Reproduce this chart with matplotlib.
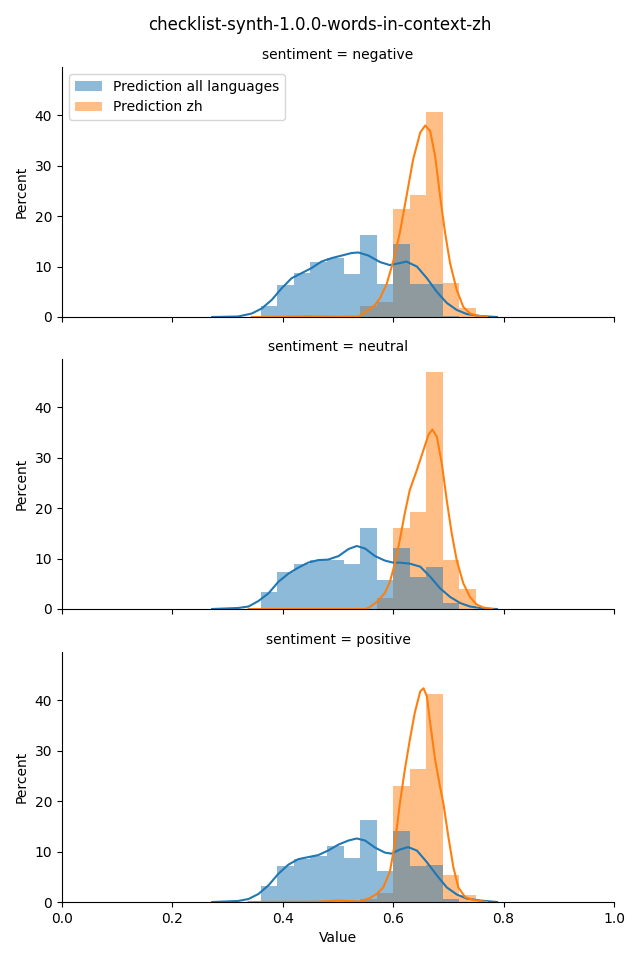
import matplotlib
matplotlib.use("Agg")
import matplotlib.pyplot as plt
import numpy as np
from matplotlib.patches import Patch

# ---------------- data ----------------
title = "checklist-synth-1.0.0-words-in-context-zh"
sentiments = ["negative", "neutral", "positive"]
series_labels = ["Prediction all languages", "Prediction zh"]

bin_edges = [0.36, 0.39, 0.42, 0.45, 0.48, 0.51, 0.54, 0.57, 0.60, 0.63, 0.66, 0.69, 0.72, 0.75]

hist_all_negative = [2.2, 6.4, 8.7, 10.9, 11.8, 8.6, 16.3, 6.6, 14.5, 6.6, 6.6, 0.2, 0.0]
hist_zh_negative = [0, 0, 0, 0, 0, 0, 2.2, 3.0, 21.5, 24.3, 40.7, 6.8, 1.7]
hist_all_neutral = [3.3, 7.3, 8.9, 9.8, 9.8, 8.9, 16.1, 5.7, 12.1, 6.3, 8.3, 1.1, 0.0]
hist_zh_neutral = [0, 0, 0, 0, 0, 0, 0, 2.2, 16.0, 19.2, 47.0, 9.8, 4.0]
hist_all_positive = [3.2, 7.1, 8.6, 9.1, 11.2, 8.7, 16.2, 6.1, 14.0, 7.1, 7.3, 0.6, 0.0]
hist_zh_positive = [0, 0, 0, 0, 0, 0, 0.6, 1.8, 23.0, 26.4, 41.3, 5.3, 1.3]

kde_all_negative_x = [0.272, 0.319, 0.344, 0.362, 0.380, 0.398, 0.416, 0.434, 0.452, 0.470, 0.489, 0.507,
                      0.525, 0.537, 0.555, 0.576, 0.594, 0.612, 0.624, 0.643, 0.661, 0.679, 0.697, 0.715,
                      0.733, 0.757, 0.788]
kde_all_negative_y = [0.0, 0.1, 0.7, 1.7, 3.4, 5.7, 7.7, 8.7, 9.7, 11.0, 11.7, 12.2,
                      12.7, 12.8, 12.2, 10.9, 10.3, 10.7, 11.0, 10.0, 7.7, 5.0, 2.8, 1.4,
                      0.6, 0.2, 0.0]
kde_zh_negative_x = [0.344, 0.40, 0.45, 0.50, 0.537, 0.543, 0.555, 0.567, 0.576, 0.588, 0.600, 0.612,
                     0.624, 0.636, 0.649, 0.658, 0.667, 0.676, 0.685, 0.694, 0.703, 0.715, 0.727,
                     0.739, 0.751, 0.770]
kde_zh_negative_y = [0.0, 0.05, 0.15, 0.05, 0.1, 0.5, 1.4, 2.4, 3.7, 6.5, 11.0, 16.7,
                     23.9, 31.2, 36.6, 38.0, 36.9, 31.9, 23.9, 16.7, 10.7, 5.4, 2.0,
                     0.7, 0.3, 0.0]

kde_all_neutral_x = [0.272, 0.319, 0.338, 0.356, 0.374, 0.392, 0.410, 0.428, 0.446, 0.464, 0.482, 0.501,
                     0.519, 0.534, 0.549, 0.567, 0.585, 0.600, 0.612, 0.630, 0.649, 0.667, 0.685, 0.703,
                     0.721, 0.739, 0.763, 0.788]
kde_all_neutral_y = [0.0, 0.2, 0.5, 1.6, 3.1, 5.4, 7.0, 8.2, 9.2, 9.7, 9.8, 10.5,
                     11.9, 12.5, 12.0, 10.5, 9.6, 9.2, 9.2, 9.0, 8.4, 6.4, 4.1, 2.4,
                     1.2, 0.5, 0.1, 0.0]
kde_zh_neutral_x = [0.338, 0.55, 0.558, 0.570, 0.585, 0.594, 0.603, 0.612, 0.621, 0.630, 0.643, 0.655,
                    0.664, 0.671, 0.679, 0.688, 0.697, 0.706, 0.715, 0.727, 0.739, 0.751, 0.763, 0.780]
kde_zh_neutral_y = [0.0, 0.0, 0.4, 1.4, 3.2, 5.4, 9.0, 13.7, 19.0, 23.6, 27.6, 31.6,
                    34.6, 35.6, 34.2, 28.9, 21.6, 15.0, 9.7, 5.1, 2.4, 0.9, 0.3, 0.0]

kde_all_positive_x = [0.272, 0.319, 0.338, 0.356, 0.374, 0.392, 0.410, 0.428, 0.446, 0.464, 0.482, 0.501,
                      0.519, 0.534, 0.549, 0.567, 0.585, 0.597, 0.612, 0.627, 0.643, 0.661, 0.679, 0.697,
                      0.715, 0.733, 0.757, 0.788]
kde_all_positive_y = [0.0, 0.2, 0.6, 1.6, 3.3, 5.6, 7.4, 8.5, 8.9, 9.3, 10.2, 11.4,
                      12.2, 12.6, 12.2, 10.8, 9.8, 9.6, 10.4, 10.9, 10.2, 7.9, 5.3, 2.9,
                      1.5, 0.7, 0.3, 0.0]
kde_zh_positive_x = [0.338, 0.46, 0.50, 0.54, 0.558, 0.570, 0.582, 0.594, 0.603, 0.612, 0.621, 0.630,
                     0.639, 0.649, 0.655, 0.661, 0.667, 0.676, 0.685, 0.691, 0.700, 0.709, 0.718,
                     0.730, 0.745, 0.770]
kde_zh_positive_y = [0.0, 0.05, 0.3, 0.1, 0.8, 1.6, 2.9, 6.0, 11.6, 19.5, 26.2, 32.1,
                     37.5, 41.8, 42.4, 40.8, 35.5, 28.2, 22.8, 19.5, 12.9, 6.9, 2.9,
                     1.0, 0.4, 0.0]

panels = [
    ("negative", hist_all_negative, hist_zh_negative,
     (kde_all_negative_x, kde_all_negative_y), (kde_zh_negative_x, kde_zh_negative_y)),
    ("neutral", hist_all_neutral, hist_zh_neutral,
     (kde_all_neutral_x, kde_all_neutral_y), (kde_zh_neutral_x, kde_zh_neutral_y)),
    ("positive", hist_all_positive, hist_zh_positive,
     (kde_all_positive_x, kde_all_positive_y), (kde_zh_positive_x, kde_zh_positive_y)),
]

# ---------------- plot ----------------
c_all = "#1f77b4"
c_zh = "#ff7f0e"

fig = plt.figure(figsize=(6.4, 9.6), dpi=100)
left, width, height = 62 / 640, 552 / 640, 250 / 960
bottoms = [1 - 317 / 960, 1 - 609 / 960, 1 - 902 / 960]

edges = np.array(bin_edges)
widths = np.diff(edges)
axes = []
for i, (name, h_all, h_zh, kde_all, kde_zh) in enumerate(panels):
    ax = fig.add_axes([left, bottoms[i], width, height])
    axes.append(ax)
    ax.bar(edges[:-1], h_zh, width=widths, align="edge", color=c_zh, alpha=0.5, linewidth=0)
    ax.bar(edges[:-1], h_all, width=widths, align="edge", color=c_all, alpha=0.5, linewidth=0)
    ax.plot(kde_all[0], kde_all[1], color=c_all, linewidth=1.5)
    ax.plot(kde_zh[0], kde_zh[1], color=c_zh, linewidth=1.5)
    ax.set_xlim(0, 1.0)
    ax.set_ylim(0, 49.6)
    ax.set_yticks([0, 10, 20, 30, 40])
    ax.set_xticks([0.0, 0.2, 0.4, 0.6, 0.8, 1.0])
    ax.spines["top"].set_visible(False)
    ax.spines["right"].set_visible(False)
    ax.set_ylabel("Percent")
    ax.set_title(f"sentiment = {name}", fontsize=10)
    if i < 2:
        ax.tick_params(labelbottom=False)
    else:
        ax.set_xlabel("Value")

handles = [Patch(facecolor=c_all, alpha=0.5, linewidth=0),
           Patch(facecolor=c_zh, alpha=0.5, linewidth=0)]
axes[0].legend(handles, series_labels, loc="upper left")

fig.suptitle(title, fontsize=12, y=0.983)

fig.savefig("out.png", dpi=100)
